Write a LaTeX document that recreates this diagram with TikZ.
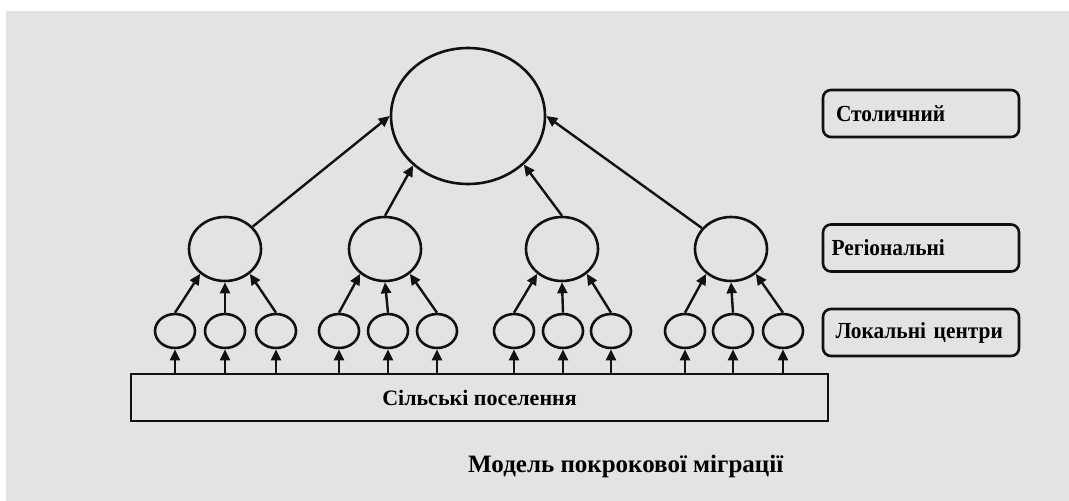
\documentclass[tikz,border=0pt]{standalone}
\usepackage{fontspec}
\setmainfont{Liberation Serif}
\newfontfamily\labfont[FakeStretch=0.93]{Liberation Serif}
\usetikzlibrary{arrows.meta,shapes.geometric}
\definecolor{bg}{HTML}{E3E3E3}
\definecolor{ink}{HTML}{111111}
\begin{document}
\begin{tikzpicture}[x=1pt,y=-1pt,
  shapeline/.style={draw=ink,line width=2.6pt},
  city/.style={shapeline,ellipse,inner sep=0pt},
  bigcity/.style={city,minimum width=154pt,minimum height=136pt},
  regcity/.style={city,minimum width=72pt,minimum height=64pt},
  loccity/.style={city,minimum width=40pt,minimum height=34pt},
  flow/.style={draw=ink,line width=2.4pt,-{Triangle[length=11pt,width=10pt]}},
  lbl/.style={font=\bfseries\fontsize{22}{26}\selectfont},
  lbox/.style 2 args={shapeline,font=\labfont\bfseries\fontsize{23}{27}\selectfont,
    rounded corners=8pt,minimum width=196pt,
    minimum height=47pt,inner xsep=#1,text width=#2,align=left},
]
\useasboundingbox (0,0) rectangle (1069,501);
\fill[white] (0,0) rectangle (1069,501);
\fill[bg] (6,11) rectangle (1069,501);

% capital
\node[bigcity] (cap) at (468,116) {};
% regional centres
\node[regcity] (r1) at (225,249) {};
\node[regcity] (r2) at (385,249) {};
\node[regcity] (r3) at (562,249) {};
\node[regcity] (r4) at (731,249) {};
% local centres
\node[loccity] (l11) at (175,331) {};
\node[loccity] (l12) at (225,331) {};
\node[loccity] (l13) at (276,331) {};
\node[loccity] (l21) at (339,331) {};
\node[loccity] (l22) at (388,331) {};
\node[loccity] (l23) at (437,331) {};
\node[loccity] (l31) at (514,331) {};
\node[loccity] (l32) at (563,331) {};
\node[loccity] (l33) at (611,331) {};
\node[loccity] (l41) at (685,331) {};
\node[loccity] (l42) at (733,331) {};
\node[loccity] (l43) at (783,331) {};
% rural settlements
\node[shapeline,lbl,minimum width=697pt,minimum height=47pt,inner sep=0pt]
  (base) at (479.5,397.5) {\raisebox{-2pt}{Сільські поселення}};

% flows
\foreach \g in {1,2,3,4}{
  \draw[flow] (l\g1.north) -- (r\g.-135);
  \draw[flow] (l\g2.north) -- (r\g.south);
  \draw[flow] (l\g3.north) -- (r\g.-45);
  \foreach \i in {1,2,3}
    \draw[flow] (l\g\i.south |- base.north) -- (l\g\i.south);
}
\draw[flow] (r1) -- (cap.west);
\draw[flow] (r2.north) -- (cap.-138);
\draw[flow] (r3.north) -- (cap.-41);
\draw[flow] (r4) -- (cap.east);

% legend boxes
\node[lbox={13pt}{170pt}] (b1) at (921,113.5) {\mbox{Столичний}};
\node[lbox={8.4pt}{179pt}] (b2) at (921,248) {\mbox{Регіональні}};
\node[lbox={12.5pt}{171pt}] (b3) at (921,332.5) {\mbox{Локальні центри}};

% caption
\node[font=\bfseries\fontsize{25}{30}\selectfont,anchor=west,inner sep=0pt]
  (title) at (468,466) {Модель покрокової міграції};
\end{tikzpicture}
\end{document}
